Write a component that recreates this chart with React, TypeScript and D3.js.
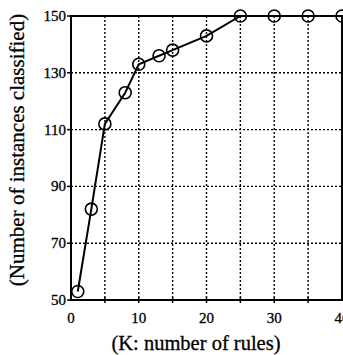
import React, { useRef, useEffect } from "react";
import * as d3 from "d3";

// rules K vs instances classified
const kValues = [1, 3, 5, 8, 10, 13, 15, 20, 25, 30, 35, 40];
const classified = [53, 82, 112, 123, 133, 136, 138, 143, 150, 150, 150, 150];
const xTickLabels = [0, 10, 20, 30, 40];
const xGridVals = [5, 10, 15, 20, 25, 30, 35];
const yTickLabels = [50, 70, 90, 110, 130, 150];

const App = () => {
  const ref = useRef<SVGSVGElement>(null);

  useEffect(() => {
    const width = 343;
    const height = 355;
    const font = "'Liberation Serif', 'Times New Roman', serif";
    const left = 71, right = 342, top = 16, bottom = 300;

    const x = d3.scaleLinear().domain([0, 40]).range([left, right]);
    const y = d3.scaleLinear().domain([50, 150]).range([bottom, top]);

    const svg = d3.select(ref.current);
    svg.selectAll("*").remove();
    svg.append("rect").attr("width", width).attr("height", height).attr("fill", "#fff");

    const grid = svg.append("g")
      .attr("stroke", "#000")
      .attr("stroke-width", 1.4)
      .attr("stroke-dasharray", "2,2");
    grid.selectAll("line.v").data(xGridVals).join("line")
      .attr("class", "v")
      .attr("x1", d => x(d)).attr("x2", d => x(d))
      .attr("y1", top).attr("y2", bottom);
    grid.selectAll("line.h").data(yTickLabels.slice(1, -1)).join("line")
      .attr("class", "h")
      .attr("x1", left).attr("x2", right)
      .attr("y1", d => y(d)).attr("y2", d => y(d));

    // frame
    svg.append("rect")
      .attr("x", left).attr("y", top)
      .attr("width", right - left).attr("height", bottom - top)
      .attr("fill", "none").attr("stroke", "#000").attr("stroke-width", 2);

    // ticks
    svg.append("g").selectAll("line").data(xGridVals).join("line")
      .attr("x1", d => x(d)).attr("x2", d => x(d))
      .attr("y1", bottom - 3).attr("y2", bottom + 3)
      .attr("stroke", "#000").attr("stroke-width", 1.5);
    svg.append("g").selectAll("line").data(yTickLabels).join("line")
      .attr("x1", left - 4).attr("x2", left)
      .attr("y1", d => y(d)).attr("y2", d => y(d))
      .attr("stroke", "#000").attr("stroke-width", 1.5);

    const txt = (sel: any) => sel
      .attr("font-family", font)
      .attr("fill", "#000")
      .attr("stroke", "#000")
      .attr("stroke-width", 0.3);

    svg.append("g").selectAll("text").data(xTickLabels).join("text")
      .attr("x", d => x(d)).attr("y", 323)
      .attr("text-anchor", "middle")
      .attr("font-size", 15)
      .call(txt)
      .text(d => d);
    svg.append("g").selectAll("text").data(yTickLabels).join("text")
      .attr("x", left - 5).attr("y", d => y(d) + 5)
      .attr("text-anchor", "end")
      .attr("font-size", 15)
      .call(txt)
      .text(d => d);

    // data
    const pts = kValues.map((k, i) => [k, classified[i]] as [number, number]);
    svg.append("path")
      .datum(pts)
      .attr("fill", "none").attr("stroke", "#000").attr("stroke-width", 2)
      .attr("d", d3.line<[number, number]>().x(d => x(d[0])).y(d => y(d[1])));
    svg.append("g").selectAll("circle").data(pts).join("circle")
      .attr("cx", d => x(d[0])).attr("cy", d => y(d[1]))
      .attr("r", 6)
      .attr("fill", "none").attr("stroke", "#000").attr("stroke-width", 1.6);

    svg.append("text")
      .attr("x", 196).attr("y", 350)
      .attr("text-anchor", "middle")
      .attr("font-size", 20.5)
      .call(txt)
      .text("(K: number of rules)");
    svg.append("text")
      .attr("transform", `translate(24,150) rotate(-90)`)
      .attr("text-anchor", "middle")
      .attr("font-size", 21)
      .call(txt)
      .text("(Number of instances classified)");
  }, []);

  return (
    <svg ref={ref} width={343} height={355}
      style={{ position: "absolute", left: 0, top: 0, display: "block" }} />
  );
};

export default App;
